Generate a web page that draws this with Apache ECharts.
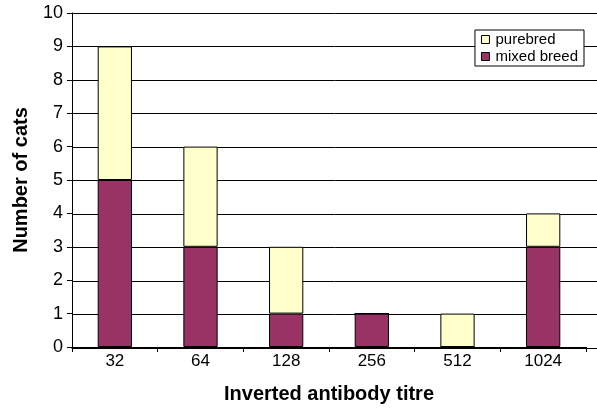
<!DOCTYPE html>
<html>
<head>
<meta charset="utf-8">
<script src="https://cdn.jsdelivr.net/npm/echarts@6/dist/echarts.min.js"></script>
<style>
  html, body { margin: 0; padding: 0; background: #fff; }
  #chart { width: 597px; height: 409px; }
</style>
</head>
<body>
<div id="chart"></div>
<script>
// data
const titres = ['32', '64', '128', '256', '512', '1024']
const mixedBreed = [5, 3, 1, 1, 0, 3]
const purebred = [4, 3, 2, 0, 1, 1]

const chart = echarts.init(document.getElementById('chart'))
const font = 'Arial, "Liberation Sans", sans-serif'

chart.setOption({
  animation: false,
  textStyle: { fontFamily: font },
  grid: [
    { left: 72, top: 13, right: 11, bottom: 61 },
    // wider grid only for the gridlines, they run to the edge
    { left: 72, top: 13, right: 0, bottom: 61 }
  ],
  legend: {
    orient: 'vertical',
    right: 13,
    top: 30,
    data: ['purebred', 'mixed breed'],
    icon: 'rect',
    itemWidth: 8,
    itemHeight: 8,
    itemGap: 2,
    padding: [2, 6, 2, 6],
    backgroundColor: '#fff',
    borderColor: '#000',
    borderWidth: 1,
    borderRadius: 0,
    textStyle: { color: '#000', fontSize: 15, fontFamily: font, padding: [0, 0, 0, 1] },
    itemStyle: { borderColor: '#000', borderWidth: 1 }
  },
  xAxis: [
    {
      type: 'category',
      gridIndex: 0,
      data: titres,
      name: 'Inverted antibody titre',
      nameLocation: 'middle',
      nameGap: 37,
      nameTextStyle: { fontSize: 20, fontWeight: 'bold', color: '#000', fontFamily: font },
      axisLine: { lineStyle: { color: '#000', width: 1 } },
      axisTick: { show: true, length: 5, lineStyle: { color: '#000' } },
      axisLabel: { color: '#000', fontSize: 17, margin: 6, fontFamily: font }
    },
    {
      type: 'value',
      gridIndex: 1,
      min: 0,
      max: 1,
      axisLine: { show: true, lineStyle: { color: '#000', width: 1 } },
      axisTick: { show: false },
      axisLabel: { show: false },
      splitLine: { show: false }
    }
  ],
  yAxis: [
    {
      type: 'value',
      gridIndex: 0,
      min: 0,
      max: 10,
      interval: 1,
      name: 'Number of cats',
      nameLocation: 'middle',
      nameGap: 41,
      nameTextStyle: { fontSize: 20, fontWeight: 'bold', color: '#000', fontFamily: font },
      axisLine: { show: true, lineStyle: { color: '#000', width: 1 } },
      axisTick: { show: true, length: 5, lineStyle: { color: '#000' } },
      axisLabel: { color: '#000', fontSize: 18, margin: 9, fontFamily: font },
      splitLine: { show: false }
    },
    {
      type: 'value',
      gridIndex: 1,
      min: 0,
      max: 10,
      interval: 1,
      axisLine: { show: false },
      axisTick: { show: false },
      axisLabel: { show: false },
      splitLine: { show: true, lineStyle: { color: '#000', width: 1 } }
    }
  ],
  series: [
    {
      name: 'mixed breed',
      type: 'bar',
      stack: 'cats',
      barWidth: '40%',
      data: mixedBreed,
      itemStyle: { color: '#993366', borderColor: '#000', borderWidth: 1 }
    },
    {
      name: 'purebred',
      type: 'bar',
      stack: 'cats',
      barWidth: '40%',
      data: purebred,
      itemStyle: { color: '#FFFFCC', borderColor: '#000', borderWidth: 1 }
    }
  ]
})
</script>
</body>
</html>
